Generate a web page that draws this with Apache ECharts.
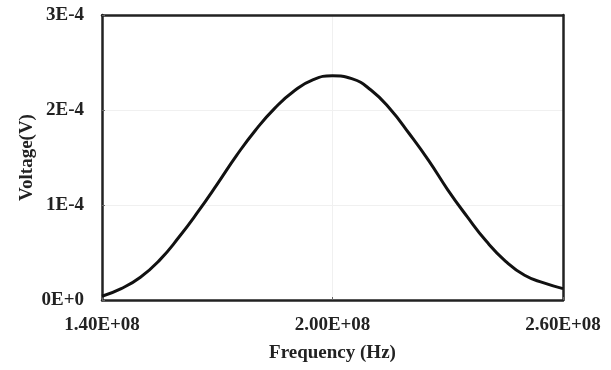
<!DOCTYPE html>
<html>
<head>
<meta charset="utf-8">
<script src="https://cdn.jsdelivr.net/npm/echarts@6/dist/echarts.min.js"></script>
<style>
  html, body { margin: 0; padding: 0; background: #fff; }
  #chart { width: 611px; height: 370px; }
</style>
</head>
<body>
<div id="chart"></div>
<script>
// frequency in MHz, voltage in V
var freqMHz = [140, 145, 150, 155, 160, 165, 170, 175, 180, 185, 190, 195, 200,
               205, 210, 215, 220, 225, 230, 235, 240, 245, 250, 255, 260];
var voltage = [0.04e-4, 0.12e-4, 0.24e-4, 0.42e-4, 0.66e-4, 0.93e-4, 1.22e-4, 1.52e-4, 1.79e-4,
               2.02e-4, 2.20e-4, 2.32e-4, 2.36e-4, 2.33e-4, 2.21e-4, 2.01e-4, 1.75e-4, 1.47e-4,
               1.16e-4, 0.88e-4, 0.62e-4, 0.41e-4, 0.26e-4, 0.18e-4, 0.12e-4];
var xTicks = [1.4e8, 2.0e8, 2.6e8];

var font = 'Liberation Serif';
var frame = { show: true, onZero: false, lineStyle: { color: '#222', width: 2.5 } };

function fmtX(v) {
    // 1.40E+08 style
    var s = v.toExponential(2).toUpperCase();
    var p = s.split('E');
    var e = parseInt(p[1], 10);
    var sign = e < 0 ? '-' : '+';
    var ae = Math.abs(e);
    return p[0] + 'E' + sign + (ae < 10 ? '0' + ae : ae);
}
function fmtY(v) {
    return v.toExponential(0).toUpperCase();
}

var points = freqMHz.map(function (f, i) {
    return [f * 1e6, voltage[i]];
});

var chart = echarts.init(document.getElementById('chart'));
chart.setOption({
    animation: false,
    backgroundColor: '#fff',
    grid: { left: 102, right: 48, top: 15, bottom: 70 },
    xAxis: [{
        type: 'value',
        min: 1.4e8,
        max: 2.6e8,
        name: 'Frequency (Hz)',
        nameLocation: 'middle',
        nameGap: 44,
        nameMoveOverlap: false,
        nameTextStyle: { fontFamily: font, fontWeight: 'bold', fontSize: 19, color: '#222' },
        axisLine: frame,
        axisTick: { show: true, inside: true, length: 3, customValues: xTicks, lineStyle: { color: '#666' } },
        axisLabel: {
            customValues: xTicks,
            formatter: fmtX,
            fontFamily: font, fontWeight: 'bold', fontSize: 19, color: '#222',
            margin: 16
        },
        splitLine: { show: true, lineStyle: { color: '#f0f0f0', width: 1 } }
    }, {
        // top frame
        type: 'value', position: 'top', min: 1.4e8, max: 2.6e8,
        axisLine: frame, axisTick: { show: false }, axisLabel: { show: false }, splitLine: { show: false }
    }],
    yAxis: [{
        type: 'value',
        min: 0,
        max: 3e-4,
        interval: 1e-4,
        name: 'Voltage(V)',
        nameLocation: 'middle',
        nameGap: 65,
        nameMoveOverlap: false,
        nameTextStyle: { fontFamily: font, fontWeight: 'bold', fontSize: 19, color: '#222' },
        axisLine: frame,
        axisTick: { show: true, inside: true, length: 3, lineStyle: { color: '#666' } },
        axisLabel: {
            formatter: fmtY,
            fontFamily: font, fontWeight: 'bold', fontSize: 19, color: '#222',
            margin: 18
        },
        splitLine: { show: true, lineStyle: { color: '#f0f0f0', width: 1 } }
    }, {
        // right frame
        type: 'value', position: 'right', min: 0, max: 3e-4,
        axisLine: frame, axisTick: { show: false }, axisLabel: { show: false }, splitLine: { show: false }
    }],
    series: [{
        type: 'line',
        data: points,
        smooth: true,
        showSymbol: false,
        lineStyle: { color: '#111', width: 3 }
    }]
});
</script>
</body>
</html>
